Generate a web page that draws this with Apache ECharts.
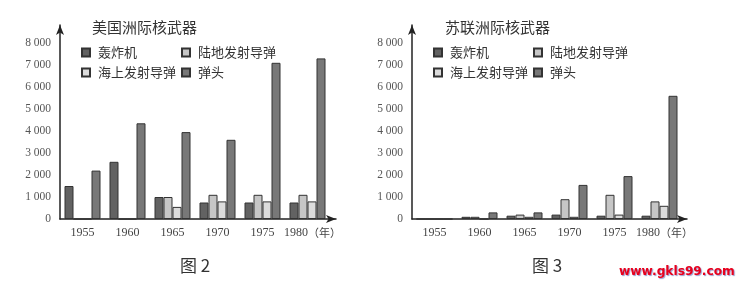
<!DOCTYPE html>
<html>
<head>
<meta charset="utf-8">
<script src="https://cdn.jsdelivr.net/npm/echarts@6/dist/echarts.min.js"></script>
<style>
html,body{margin:0;padding:0;background:#fff;}
#c{width:747px;height:282px;}
</style>
</head>
<body>
<div id="c"></div>
<script>
// ---- data ----
const years = ['1955', '1960', '1965', '1970', '1975', '1980'];
const seriesNames = ['轰炸机', '陆地发射导弹', '海上发射导弹', '弹头'];
const yTicks = [0, 1000, 2000, 3000, 4000, 5000, 6000, 7000, 8000];

const usBomber  = [1500, 2600, 1000, 750, 750, 750];
const usLand    = [0, 0, 1000, 1100, 1100, 1100];
const usSea     = [0, 0, 550, 800, 800, 800];
const usWarhead = [2200, 4350, 3950, 3600, 7100, 7300];

const suBomber  = [0, 100, 150, 200, 150, 150];
const suLand    = [0, 100, 200, 900, 1100, 800];
const suSea     = [0, 0, 100, 100, 200, 600];
const suWarhead = [0, 300, 300, 1550, 1950, 5600];

const usTitle = '美国洲际核武器';
const suTitle = '苏联洲际核武器';
const usCaption = '图 2';
const suCaption = '图 3';
const watermark = 'www.gkls99.com';
const yearUnit = '（年）';

// ---- styles ----
const colors = ['#626262', '#c6c6c6', '#dcdcdc', '#787878'];
const borderColor = '#333';
const axisColor = '#222';
const serif = '"Liberation Serif", "DejaVu Serif", serif';
const cjk = '"Noto Sans CJK SC", "Noto Sans", sans-serif';

function fmtY(v) {
  if (v === 0) return '0';
  const s = String(v);
  return s.slice(0, s.length - 3) + ' ' + s.slice(-3);
}

function catAxis(gi) {
  return {
    type: 'category', gridIndex: gi, data: years, boundaryGap: true,
    axisLine: {show: false}, axisTick: {show: false}, splitLine: {show: false},
    axisLabel: {
      interval: 0, hideOverlap: false,
      margin: 8, color: '#444', fontFamily: serif, fontSize: 12,
      formatter: function (v, i) {
        return i === years.length - 1 ? '{sp|}' + v + '{u|' + yearUnit + '}' : v;
      },
      rich: {
        sp: {width: 10},
        u: {fontFamily: cjk, fontSize: 11, color: '#444'}
      }
    }
  };
}
function decoX(gi) {
  return {
    type: 'value', gridIndex: gi, min: 0, max: 1,
    axisLine: {show: true, lineStyle: {color: axisColor, width: 1.5}, symbol: ['none', 'arrow'], symbolSize: [6, 10]},
    axisTick: {show: false}, axisLabel: {show: false}, splitLine: {show: false}
  };
}
function decoY(gi) {
  return {
    type: 'value', gridIndex: gi, min: 0, max: 1,
    axisLine: {show: true, lineStyle: {color: axisColor, width: 1.5}, symbol: ['none', 'arrow'], symbolSize: [6, 10]},
    axisTick: {show: false}, axisLabel: {show: false}, splitLine: {show: false}
  };
}
function valAxis(gi) {
  return {
    type: 'value', gridIndex: gi, min: yTicks[0], max: yTicks[yTicks.length - 1], interval: yTicks[1] - yTicks[0],
    axisLine: {show: false}, axisTick: {show: false}, splitLine: {show: false},
    axisLabel: {margin: 9, color: '#555', fontFamily: serif, fontSize: 11.5, formatter: fmtY}
  };
}
function barSeries(name, data, idx, axisIdx) {
  return {
    type: 'bar', name: name, data: data, xAxisIndex: axisIdx, yAxisIndex: axisIdx,
    barWidth: 9, barGap: '0%',
    itemStyle: {color: colors[idx], borderColor: borderColor, borderWidth: 1},
    emphasis: {disabled: true}
  };
}
function legend(left) {
  return {
    left: left, top: 45, width: 200, padding: 0, itemGap: 5,
    itemWidth: 8, itemHeight: 8, icon: 'rect',
    data: seriesNames,
    textStyle: {fontFamily: cjk, fontSize: 13, color: '#333', width: 78, padding: [0, 0, 0, 3], lineHeight: 15},
    selectedMode: false
  };
}

const chart = echarts.init(document.getElementById('c'));
chart.setOption({
  backgroundColor: '#fff',
  animation: false,
  title: [
    {text: usTitle, left: 87, top: 15, textStyle: {fontFamily: cjk, fontSize: 15, fontWeight: 'normal', color: '#333'}},
    {text: suTitle, left: 440, top: 15, textStyle: {fontFamily: cjk, fontSize: 15, fontWeight: 'normal', color: '#333'}},
    {text: usCaption, left: 175, top: 252, textStyle: {fontFamily: cjk, fontSize: 17, fontWeight: 'normal', color: '#333'}},
    {text: suCaption, left: 527, top: 252, textStyle: {fontFamily: cjk, fontSize: 17, fontWeight: 'normal', color: '#333'}},
    {text: watermark, left: 614, top: 261, textStyle: {fontFamily: '"DejaVu Sans", sans-serif', fontSize: 12.2, fontWeight: 'bold', color: '#e8001c',
      textShadowColor: 'rgba(70,70,160,0.55)', textShadowOffsetX: 1, textShadowOffsetY: 1, textShadowBlur: 1}}
  ],
  legend: [legend(81), legend(433)],
  grid: [
    {left: 60, top: 43, width: 270, height: 176},
    {left: 60, top: 25, width: 276, height: 194},
    {left: 412, top: 43, width: 270, height: 176},
    {left: 412, top: 25, width: 275, height: 194}
  ],
  xAxis: [catAxis(0), decoX(1), catAxis(2), decoX(3)],
  yAxis: [valAxis(0), decoY(1), valAxis(2), decoY(3)],
  series: [
    barSeries(seriesNames[0], usBomber, 0, 0),
    barSeries(seriesNames[1], usLand, 1, 0),
    barSeries(seriesNames[2], usSea, 2, 0),
    barSeries(seriesNames[3], usWarhead, 3, 0),
    barSeries(seriesNames[0], suBomber, 0, 2),
    barSeries(seriesNames[1], suLand, 1, 2),
    barSeries(seriesNames[2], suSea, 2, 2),
    barSeries(seriesNames[3], suWarhead, 3, 2)
  ]
});
</script>
</body>
</html>
